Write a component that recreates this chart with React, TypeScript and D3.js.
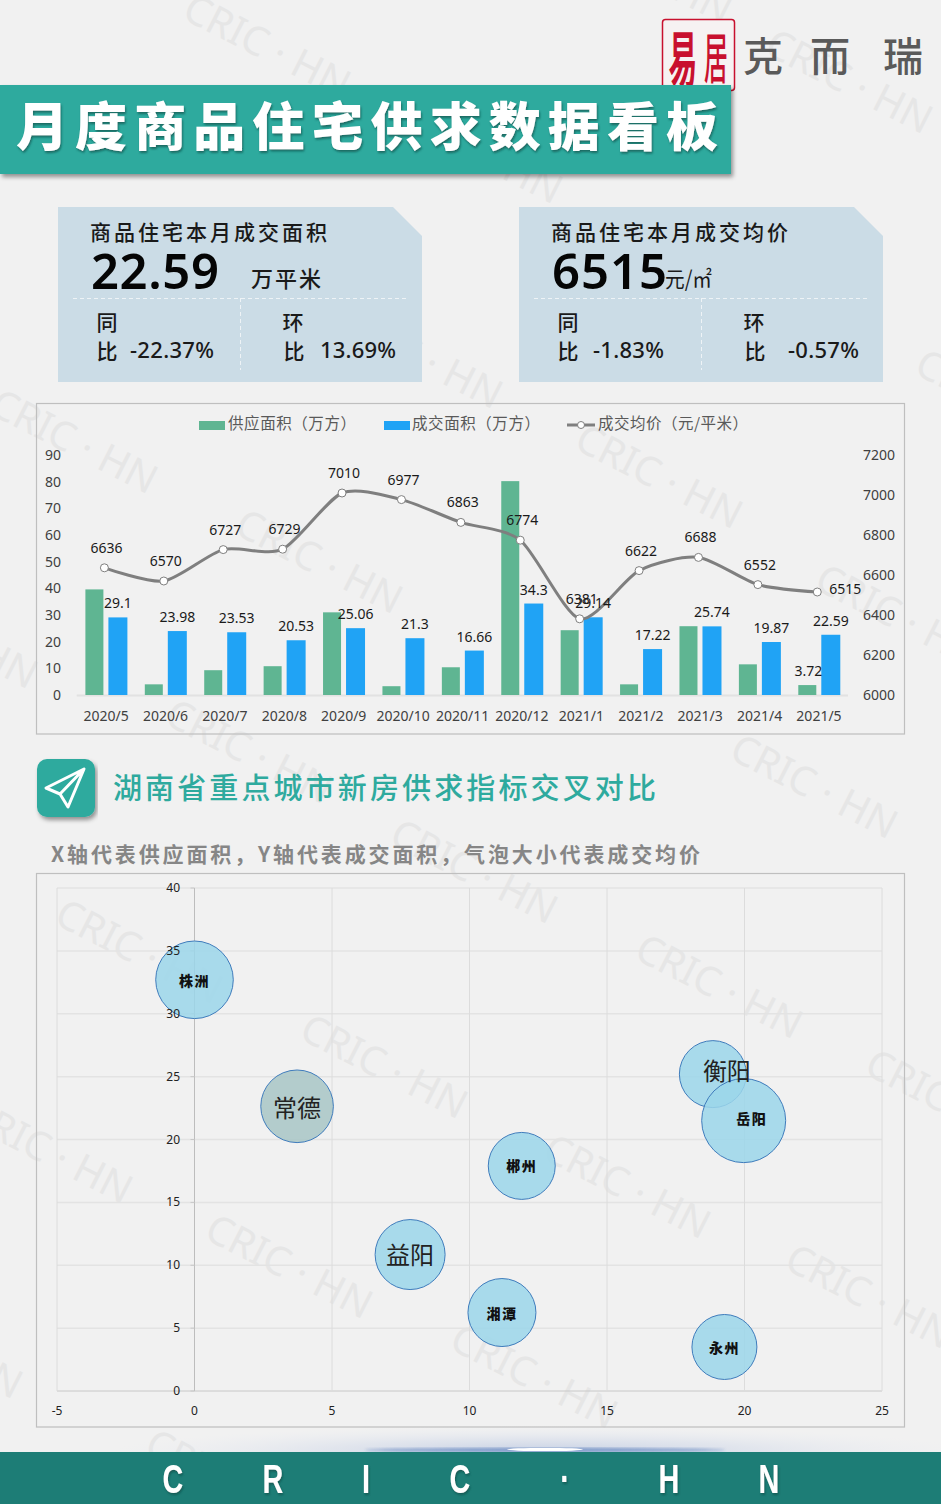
import React from 'react';
import * as d3 from 'd3';

const months = ['2020/5','2020/6','2020/7','2020/8','2020/9','2020/10','2020/11','2020/12','2021/1','2021/2','2021/3','2021/4','2021/5'];
const supplyArea = [39.6,4.0,9.3,10.8,31,3.3,10.4,80.2,24.3,4.0,25.8,11.5,3.72];
const dealArea = [29.1,23.98,23.53,20.53,25.06,21.3,16.66,34.3,29.14,17.22,25.74,19.87,22.59];
const avgPrice = [6636,6570,6727,6729,7010,6977,6863,6774,6381,6622,6688,6552,6515];
const leftTicks = [0,10,20,30,40,50,60,70,80,90];
const rightTicks = [6000,6200,6400,6600,6800,7000,7200];

const cities = ['株洲','常德','衡阳','岳阳','郴州','益阳','湘潭','永州'];
const citySupply = [0,3.73,18.85,19.97,11.9,7.84,11.18,19.27];
const cityDeal = [32.7,22.64,25.2,21.5,17.9,10.85,6.24,3.5];
const citySize = [1505,1318,1122,1764,1122,1225,1156,1056];
const bubbleXTicks = [-5,0,5,10,15,20,25];
const bubbleYTicks = [0,5,10,15,20,25,30,35,40];

const watermarkCenters: [number, number][] = [[268,45],[850,80],[480,150],[650,-30],[75,440],[420,355],[660,475],[320,560],[900,615],[-45,635],[250,750],[815,785],[475,870],[140,950],[385,1065],[720,985],[950,1100],[50,1150],[628,1185],[290,1265],[870,1295],[535,1375],[-60,1345],[230,1480],[1000,400]];
const footerLetters = ['C','R','I','C','·','H','N'];
const footerX = [173,273,366,460,565,669,769];

const SANS = '"Noto Sans","Noto Sans CJK SC",sans-serif';
const CJK = '"Noto Sans CJK SC","Noto Sans",sans-serif';

function Card({ dx, title, big, unit, yoy, mom, bigLen, yoyX, yoyLen, momX, momLen }: any) {
  const c = '#1a1a1a';
  return (
    <g transform={`translate(${dx},0)`} fontFamily={SANS} fill={c}>
      <path d="M58 207H393L422 236V382H58Z" fill="#cbdce6" />
      <text x={90} y={240} fontSize={21} fontWeight={500} fontFamily={CJK} textLength={237} lengthAdjust="spacing">{title}</text>
      <text x={91} y={289} fontSize={49} fontWeight={600} fill="#050505" textLength={bigLen} lengthAdjust="spacing">{big}</text>
      {unit}
      <line x1={73} x2={407} y1={298.5} y2={298.5} stroke="#eef3f6" strokeDasharray="4 3" />
      <line x1={240.5} x2={240.5} y1={298} y2={370} stroke="#eef3f6" strokeDasharray="4 3" />
      <text x={107} y={330} fontSize={21} fontWeight={500} textAnchor="middle" fontFamily={CJK}>同</text>
      <text x={107} y={359} fontSize={21} fontWeight={500} textAnchor="middle" fontFamily={CJK}>比</text>
      <text x={yoyX} y={358} fontSize={22} fontWeight={500} textLength={yoyLen} lengthAdjust="spacing">{yoy}</text>
      <text x={293} y={330} fontSize={21} fontWeight={500} textAnchor="middle" fontFamily={CJK}>环</text>
      <text x={294} y={359} fontSize={21} fontWeight={500} textAnchor="middle" fontFamily={CJK}>比</text>
      <text x={momX} y={358} fontSize={22} fontWeight={500} textLength={momLen} lengthAdjust="spacing">{mom}</text>
    </g>
  );
}

export default function App() {
  const band = d3.scaleBand<string>().domain(months).range([76.7, 849]);
  const center = (m: string) => (band(m) as number) + band.bandwidth() / 2;
  const yL = d3.scaleLinear().domain([0, 90]).range([695, 455]);
  const yR = d3.scaleLinear().domain([6000, 7200]).range([695, 455]);
  const line = d3.line<number>()
    .x((_, i) => center(months[i]) - 2)
    .y((d) => yR(d))
    .curve(d3.curveCardinal.tension(0.25));

  const bx = d3.scaleLinear().domain([-5, 25]).range([57, 882]);
  const by = d3.scaleLinear().domain([0, 40]).range([1391, 888]);
  const br = d3.scaleSqrt().domain([0, 1764]).range([0, 42]);
  const bold = new Set(['株洲','郴州','岳阳','湘潭','永州']);
  const labelDx: Record<string, number> = { '衡阳': 14, '岳阳': 8 };
  const labelDy: Record<string, number> = { '衡阳': -3, '岳阳': -3, '常德': 2, '郴州': -1 };

  return (
    <svg width={941} height={1504} viewBox="0 0 941 1504" style={{ position: 'absolute', left: 0, top: 0, display: 'block' }}>
      <defs>
        <filter id="sh" x="-5%" y="-10%" width="110%" height="125%">
          <feDropShadow dx="2" dy="3" stdDeviation="2" floodColor="#000" floodOpacity="0.4" />
        </filter>
        <filter id="ts" x="-10%" y="-10%" width="120%" height="120%">
          <feDropShadow dx="1" dy="2" stdDeviation="0.8" floodColor="#0b4f49" floodOpacity="0.7" />
        </filter>
        <filter id="blur"><feGaussianBlur stdDeviation="1.5" /></filter>
        <radialGradient id="glow">
          <stop offset="0" stopColor="#b3c2de" stopOpacity="0.75" />
          <stop offset="0.5" stopColor="#cdd6e8" stopOpacity="0.45" />
          <stop offset="1" stopColor="#e6eaf2" stopOpacity="0" />
        </radialGradient>
      </defs>
      <rect width={941} height={1504} fill="#f1f1f1" />

      {watermarkCenters.map(([x, y], i) => (
        <text key={i} transform={`translate(${x},${y}) rotate(27)`} textAnchor="middle" dominantBaseline="central"
          fontFamily={SANS} fontSize={40} fill="#e6e6e6">CRIC · HN</text>
      ))}

      {/* logo */}
      <rect x={662.5} y={19.5} width={72} height={71} rx={3} fill="#f6f2f2" stroke="#c8102e" strokeWidth={1.5} />
      <text transform="translate(683,82) scale(0.8,1.7)" textAnchor="middle" fontFamily={CJK} fontWeight={700} fontSize={36} fill="#c8102e">易</text>
      <text transform="translate(716,78) scale(0.7,1.6)" textAnchor="middle" fontFamily={CJK} fontWeight={500} fontSize={34} fill="#c8102e">居</text>
      <g fontFamily={CJK} fontWeight={500} fontSize={40} fill="#5a5a5a" textAnchor="middle">
        <text x={763} y={71}>克</text>
        <text x={830} y={71}>而</text>
        <text x={903} y={71}>瑞</text>
      </g>

      {/* title */}
      <rect x={0} y={85} width={731} height={89} fill="#2eaa9e" filter="url(#sh)" />
      <text x={16} y={146} fontFamily={CJK} fontWeight={900} fontSize={52} fill="#fff" textLength={702} lengthAdjust="spacing" filter="url(#ts)">月度商品住宅供求数据看板</text>

      {/* KPI cards */}
      <Card dx={0} title="商品住宅本月成交面积" big="22.59" bigLen={128} yoy="-22.37%" yoyX={130} yoyLen={84} mom="13.69%" momX={320} momLen={76}
        unit={<text x={251} y={287} fontSize={22} fontWeight={500} fontFamily={CJK} textLength={70} lengthAdjust="spacing">万平米</text>} />
      <Card dx={461} title="商品住宅本月成交均价" big="6515" bigLen={115} yoy="-1.83%" yoyX={132} yoyLen={71} mom="-0.57%" momX={327} momLen={71}
        unit={<text x={204} y={287} fontSize={22} fontFamily={CJK} textLength={47} lengthAdjust="spacingAndGlyphs">元/㎡</text>} />

      {/* combo chart */}
      <rect x={36.5} y={403.5} width={868} height={330.5} fill="none" stroke="#bfbfbf" strokeWidth={1.2} />
      <g fontFamily={CJK} fontSize={15.5} fill="#595959">
        <rect x={199} y={421} width={26} height={9} fill="#5fb592" />
        <text x={228} y={429} textLength={128} lengthAdjust="spacing">供应面积（万方）</text>
        <rect x={384} y={421} width={26} height={9} fill="#20a3f5" />
        <text x={412} y={429} textLength={128} lengthAdjust="spacing">成交面积（万方）</text>
        <line x1={567} x2={595} y1={425} y2={425} stroke="#7f7f7f" strokeWidth={3} />
        <circle cx={581} cy={425} r={3.5} fill="#fff" stroke="#7f7f7f" />
        <text x={598} y={429} textLength={150} lengthAdjust="spacing">成交均价（元/平米）</text>
      </g>
      <g fontFamily={SANS} fontSize={14} fill="#404040">
        {leftTicks.map((t) => <text key={t} x={61} y={yL(t) + 5} textAnchor="end">{t}</text>)}
        {rightTicks.map((t) => <text key={t} x={895} y={yR(t) + 5} textAnchor="end">{t}</text>)}
        {months.map((m) => <text key={m} x={center(m) - 0.3} y={721} textAnchor="middle">{m}</text>)}
      </g>
      <line x1={76.7} x2={848} y1={695.5} y2={695.5} stroke="#e2e2e2" strokeWidth={2} />
      {months.map((m, i) => (
        <g key={m}>
          <rect x={center(m) - 21} width={18} y={yL(supplyArea[i])} height={695 - yL(supplyArea[i])} fill="#5fb592" />
          <rect x={center(m) + 2} width={19} y={yL(dealArea[i])} height={695 - yL(dealArea[i])} fill="#20a3f5" />
        </g>
      ))}
      <path d={line(avgPrice) as string} fill="none" stroke="#7f7f7f" strokeWidth={3} strokeLinecap="round" />
      {avgPrice.map((v, i) => <circle key={i} cx={center(months[i]) - 2} cy={yR(v)} r={4} fill="#fff" stroke="#7f7f7f" strokeWidth={1} />)}
      <g fontFamily={SANS} fontSize={14} fill="#1a1a1a" textAnchor="middle">
        {avgPrice.map((v, i) => {
          const last = i === months.length - 1;
          return <text key={i} x={center(months[i]) + (last ? 26 : 0)} y={yR(v) + (last ? 2 : -15)}>{v}</text>;
        })}
        {dealArea.map((v, i) => <text key={i} x={center(months[i]) + 11.5} y={yL(v) - 9}>{v}</text>)}
        <text x={center(months[12]) - 11} y={yL(supplyArea[12]) - 9}>{supplyArea[12]}</text>
      </g>

      {/* section header */}
      <rect x={37} y={759} width={58} height={58} rx={10} fill="#2eaa9e" filter="url(#sh)" />
      <path d="M84 769L46 788L60 794L68 807ZM60 794L84 769" fill="none" stroke="#fff" strokeWidth={3} strokeLinejoin="round" />
      <text x={113} y={799} fontFamily={CJK} fontWeight={500} fontSize={29} fill="#2eaa9e" textLength={543} lengthAdjust="spacing">湖南省重点城市新房供求指标交叉对比</text>
      <text x={51} y={862} fontFamily={CJK} fontWeight={700} fontSize={21} fill="#868686" textLength={649} lengthAdjust="spacing">X轴代表供应面积，Y轴代表成交面积，气泡大小代表成交均价</text>

      {/* bubble chart */}
      <rect x={36.5} y={873.5} width={868} height={553.5} fill="none" stroke="#bfbfbf" strokeWidth={1.2} />
      {bubbleYTicks.map((t) => <line key={t} x1={bx(-5)} x2={bx(25)} y1={by(t)} y2={by(t)} stroke={t === 0 ? '#c8c8c8' : '#e3e3e3'} strokeWidth={t === 0 ? 1 : 1.5} />)}
      {bubbleXTicks.map((t) => <line key={t} x1={bx(t)} x2={bx(t)} y1={by(40)} y2={by(0)} stroke={t === 0 ? '#bdbdbd' : '#dcdcdc'} />)}
      {bubbleYTicks.map((t) => <line key={t} x1={bx(0) - 4} x2={bx(0)} y1={by(t)} y2={by(t)} stroke="#c8c8c8" />)}
      {cities.map((c, i) => (
        <circle key={c} cx={bx(citySupply[i])} cy={by(cityDeal[i])} r={br(citySize[i])}
          fill={c === '常德' ? '#a8c6c6' : '#9bd6ea'} fillOpacity={0.85} stroke="#3f7cbc" strokeWidth={1} />
      ))}
      <g fontFamily={SANS} fontSize={12} fill="#222" >
        {bubbleYTicks.map((t) => <text key={t} x={180} y={by(t) + 4} textAnchor="end">{t}</text>)}
        {bubbleXTicks.map((t) => <text key={t} x={bx(t)} y={1415} textAnchor="middle">{t}</text>)}
      </g>
      {cities.map((c, i) => (
        <text key={c} x={bx(citySupply[i]) + (labelDx[c] || 0)} y={by(cityDeal[i]) + (bold.has(c) ? 6 : 9) + (labelDy[c] || 0)} textAnchor="middle"
          fontFamily={CJK} fontSize={bold.has(c) ? 14 : 24} letterSpacing={bold.has(c) ? 1.5 : 0} fontWeight={bold.has(c) ? 900 : 400} fill={bold.has(c) ? '#111' : '#222'}>{c}</text>
      ))}

      {/* footer */}
      <ellipse cx={540} cy={1452} rx={430} ry={26} fill="url(#glow)" />
      <ellipse cx={545} cy={1450} rx={180} ry={2.2} fill="#6f8fc5" opacity={0.8} filter="url(#blur)" />
      <ellipse cx={545} cy={1449.5} rx={38} ry={1.6} fill="#fff" />
      <rect x={0} y={1452} width={941} height={52} fill="#1d7d76" />
      <g fontFamily='"Liberation Sans","Roboto",sans-serif' fontWeight={700} fontSize={40} fill="#fff" textAnchor="middle" filter="url(#ts)">
        {footerLetters.map((l, i) => <text key={i} transform={`translate(${footerX[i]},1493) scale(0.72,1)`}>{l}</text>)}
      </g>
    </svg>
  );
}
